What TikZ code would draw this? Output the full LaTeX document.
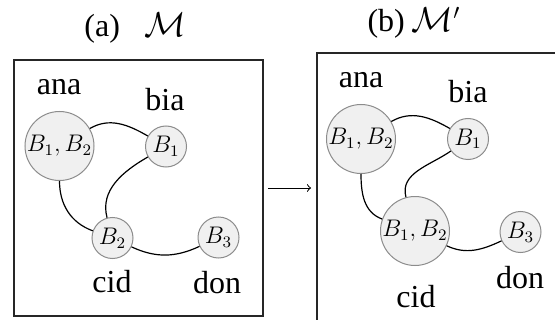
\documentclass[tikz,border=0pt]{standalone}
\usepackage[no-math]{fontspec}
\setmainfont{Liberation Serif}
\newfontfamily\labelfont{Liberation Serif}
\begin{document}
\begin{tikzpicture}[x=0.5pt,y=-0.5pt,
  agent/.style={circle,draw=black!45,fill=black!6,line width=0.5pt,inner sep=0pt,
    font=\fontsize{11.5}{13}\selectfont},
  bigagent/.style={agent,minimum size=34.5pt},
  smallagent/.style={agent,minimum size=20.5pt},
  agentname/.style={anchor=base,inner sep=0pt,font=\labelfont\fontsize{16}{18}\selectfont},
  paneltitle/.style={anchor=base,inner sep=0pt,font=\labelfont\fontsize{16}{18}\selectfont},
  link/.style={line width=0.6pt},
  frame/.style={draw=black!85,line width=0.6pt}]
\useasboundingbox (0,0) rectangle (555,320);
\clip (0,0) rectangle (555,320);

% titles
\node[paneltitle] (ta) at (135,37) {(a)\hspace{12pt}$\mathcal{M}$};
\node[paneltitle] (tb) at (414,32) {(b)\hspace{3.5pt}$\mathcal{M}'$};

% frames
\draw[frame] (14,60) rectangle (263,316);
\draw[frame] (317,53) rectangle (600,360);

% model M
\node[bigagent]   (a1) at (59.5,146) {$B_1,B_2$};
\node[smallagent] (b1) at (166,146.5) {$B_1$};
\node[smallagent] (c1) at (112.5,238) {$B_2$};
\node[smallagent] (d1) at (218.5,237.5) {$B_3$};
\node[agentname] (na1) at (59,95) {ana};
\node[agentname] (nb1) at (165,111) {bia};
\node[agentname] (nc1) at (112,292) {cid};
\node[agentname] (nd1) at (217,293) {don};
\draw[link] (a1) to[out=30,in=150] (b1);
\draw[link] (b1) to[out=210,in=105] (c1);
\draw[link] (a1) to[out=270,in=160] (c1);
\draw[link] (c1) to[out=-25,in=205] (d1);

% model M'
\node[bigagent]   (a2) at (361,139) {$B_1,B_2$};
\node[smallagent] (b2) at (468,139) {$B_1$};
\node[bigagent]   (c2) at (415,231) {$B_1,B_2$};
\node[smallagent] (d2) at (520.5,232) {$B_3$};
\node[agentname] (na2) at (361,88) {ana};
\node[agentname] (nb2) at (468,103) {bia};
\node[agentname] (nc2) at (416,307) {cid};
\node[agentname] (nd2) at (520,288) {don};
\draw[link] (a2) to[out=30,in=150] (b2);
\draw[link] (b2) to[out=215,in=105] (c2);
\draw[link] (a2) to[out=270,in=160] (c2);
\draw[link] (c2) to[out=-25,in=205] (d2);

% update arrow between the two models
\coordinate (fromM) at (268,188);
\coordinate (toM) at (311,188);
\draw[line width=0.5pt,->] (fromM) -- (toM);
\end{tikzpicture}
\end{document}
